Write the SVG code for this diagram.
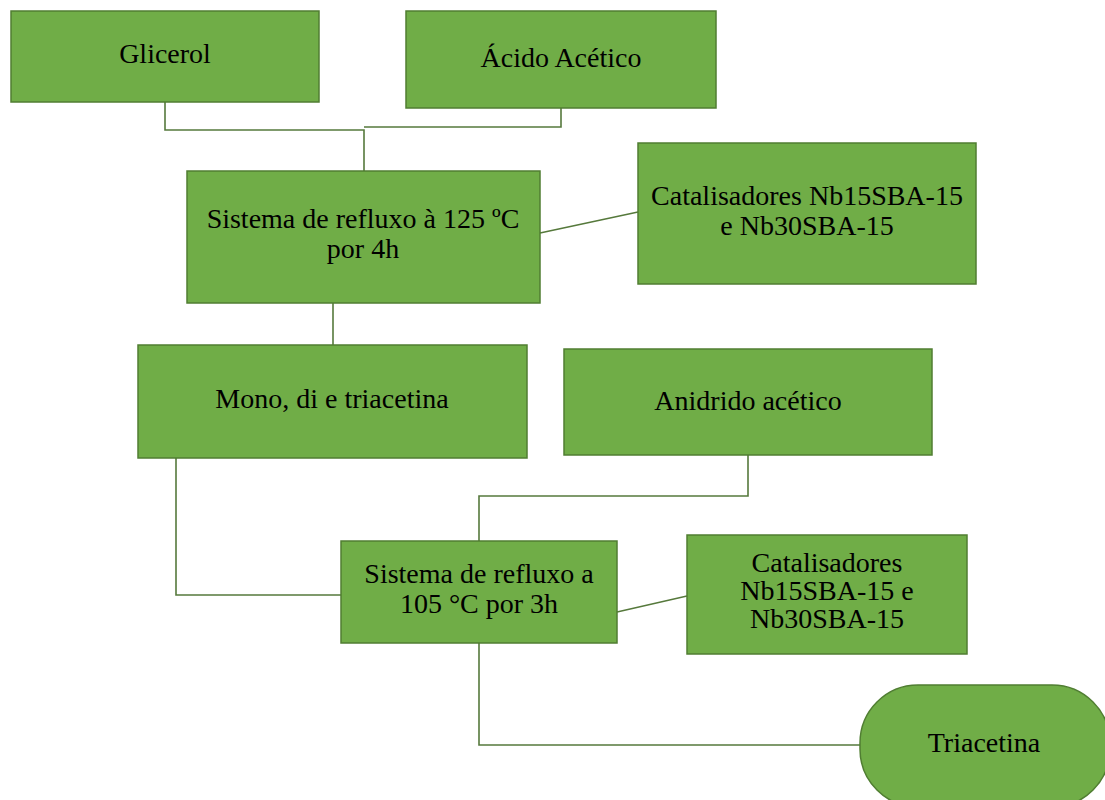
<svg xmlns="http://www.w3.org/2000/svg" width="1105" height="800" viewBox="0 0 1105 800">
  <style>
    .box { fill: #70AD47; stroke: #507E32; stroke-width: 1.5; }
    .lbl { font-family: "Liberation Serif", "Times New Roman", serif; font-size: 28px; fill: #000; text-anchor: middle; }
    .link { fill: none; stroke: #56793C; stroke-width: 1.6; }
  </style>
  <rect width="1105" height="800" fill="#ffffff"/>

  <!-- connectors -->
  <g id="connectors">
    <path class="link" d="M165,102 V130 H364 V171"/>
    <path class="link" d="M561,108 V127 H364"/>
    <path class="link" d="M540,233 L638,212"/>
    <path class="link" d="M333,303 V345"/>
    <path class="link" d="M176,458 V595 H341"/>
    <path class="link" d="M748,455 V496 H479 V541"/>
    <path class="link" d="M617,612 L687,596"/>
    <path class="link" d="M479,643 V745 H860"/>
  </g>

  <g id="glicerol">
    <rect class="box" x="11" y="11" width="308" height="91"/>
    <text class="lbl" x="165" y="63">Glicerol</text>
  </g>

  <g id="acido-acetico">
    <rect class="box" x="406" y="11" width="310" height="97"/>
    <text class="lbl" x="561" y="67">Ácido Acético</text>
  </g>

  <g id="refluxo-125">
    <rect class="box" x="187" y="171" width="353" height="132"/>
    <text class="lbl" x="363" y="228">Sistema de refluxo à 125 ºC</text>
    <text class="lbl" x="363" y="258">por 4h</text>
  </g>

  <g id="catalisadores-1">
    <rect class="box" x="638" y="143" width="338" height="141"/>
    <text class="lbl" x="807" y="205">Catalisadores Nb15SBA-15</text>
    <text class="lbl" x="807" y="235">e Nb30SBA-15</text>
  </g>

  <g id="mono-di-tri">
    <rect class="box" x="138" y="345" width="389" height="113"/>
    <text class="lbl" x="332" y="408">Mono, di e triacetina</text>
  </g>

  <g id="anidrido">
    <rect class="box" x="564" y="349" width="368" height="106"/>
    <text class="lbl" x="748" y="410">Anidrido acético</text>
  </g>

  <g id="refluxo-105">
    <rect class="box" x="341" y="541" width="276" height="102"/>
    <text class="lbl" x="479" y="583">Sistema de refluxo a</text>
    <text class="lbl" x="479" y="613">105 °C por 3h</text>
  </g>

  <g id="catalisadores-2">
    <rect class="box" x="687" y="535" width="280" height="119"/>
    <text class="lbl" x="827" y="572">Catalisadores</text>
    <text class="lbl" x="827" y="600">Nb15SBA-15 e</text>
    <text class="lbl" x="827" y="628">Nb30SBA-15</text>
  </g>

  <g id="triacetina">
    <rect class="box" x="860" y="685" width="250" height="122" rx="58" ry="58"/>
    <text class="lbl" x="984" y="752">Triacetina</text>
  </g>
</svg>
